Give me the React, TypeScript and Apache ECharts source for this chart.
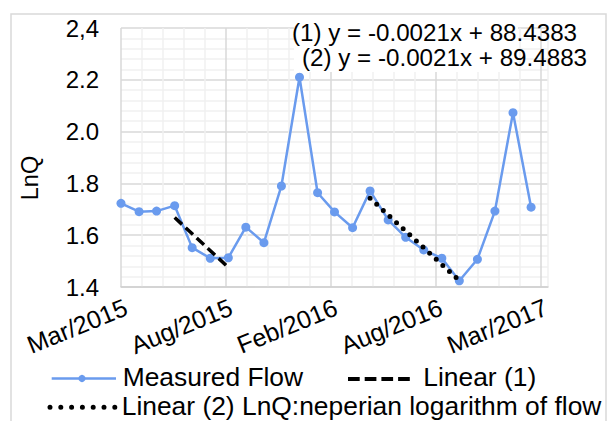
import React, { useEffect, useRef } from 'react';
import * as echarts from 'echarts';

// ---- Data ----
const months = [
  '2015-03', '2015-04', '2015-05', '2015-06', '2015-07', '2015-08',
  '2015-09', '2015-10', '2015-11', '2015-12', '2016-01', '2016-02',
  '2016-03', '2016-04', '2016-05', '2016-06', '2016-07', '2016-08',
  '2016-09', '2016-10', '2016-11', '2016-12', '2017-01', '2017-02',
];
const lnQ = [
  1.723, 1.691, 1.693, 1.714, 1.552, 1.511,
  1.513, 1.631, 1.571, 1.790, 2.210, 1.764,
  1.690, 1.629, 1.771, 1.659, 1.592, 1.543,
  1.511, 1.424, 1.507, 1.693, 2.073, 1.708,
];
const xTickLabels = ['Mar/2015', 'Aug/2015', 'Feb/2016', 'Aug/2016', 'Mar/2017'];
const yTickLabels = ['1.4', '1.6', '1.8', '2.0', '2.2', '2,4'];
const trend1Range = [3, 6];
const trend2Range = [14, 19];
const equations = ['(1) y = -0.0021x + 88.4383', '(2) y = -0.0021x + 89.4883'];
const legendNames = ['Measured Flow', 'Linear (1)', 'Linear (2) LnQ:neperian logarithm of flow'];

// ---- Helpers ----
const START = Date.UTC(2015, 2, 1);
const DAY = 86400000;
const dayOf = (m: string) => {
  const [y, mo] = m.split('-').map(Number);
  return (Date.UTC(y, mo - 1, 1) - START) / DAY;
};
const X_MAX = 732;
const X_MAJOR = 180;
const X_MINOR = 36;

function linearTrend(range: number[]) {
  const xs: number[] = [];
  const ys: number[] = [];
  for (let i = range[0]; i <= range[1]; i++) {
    xs.push(dayOf(months[i]));
    ys.push(lnQ[i]);
  }
  const n = xs.length;
  const mx = xs.reduce((a, b) => a + b, 0) / n;
  const my = ys.reduce((a, b) => a + b, 0) / n;
  let sxy = 0;
  let sxx = 0;
  for (let i = 0; i < n; i++) {
    sxy += (xs[i] - mx) * (ys[i] - my);
    sxx += (xs[i] - mx) * (xs[i] - mx);
  }
  const slope = sxy / sxx;
  return [
    [xs[0], my + slope * (xs[0] - mx)],
    [xs[n - 1], my + slope * (xs[n - 1] - mx)],
  ];
}

const FONT = 'Liberation Sans, Arial, Helvetica, sans-serif';
const BLUE = '#6a9bee';

export default function App() {
  const ref = useRef<HTMLDivElement>(null);

  useEffect(() => {
    const chart = echarts.init(ref.current!, null, { renderer: 'svg' });
    const flowData = months.map((m, i) => [dayOf(m), lnQ[i]]);

    const option: any = {
      animation: false,
      backgroundColor: '#fff',
      textStyle: { fontFamily: FONT },
      grid: [
        { left: 121, top: 28, right: 59, bottom: 134, containLabel: false },
        // label grid, shifted slightly right so rotated labels end past their ticks
        { left: 126, top: 28, right: 54, bottom: 134, containLabel: false },
      ],
      xAxis: [
        {
          type: 'value',
          gridIndex: 0,
          min: 0,
          max: X_MAX,
          interval: X_MINOR,
          axisLine: { show: true, lineStyle: { color: '#d0d0d0', width: 1.5 } },
          axisTick: { show: false },
          splitLine: {
            show: true,
            lineStyle: { color: ['#d9d9d9', '#f0f0f0', '#f0f0f0', '#f0f0f0', '#f0f0f0'], width: 1.5 },
          },
          axisLabel: { show: false },
        },
        {
          type: 'value',
          gridIndex: 1,
          min: 0,
          max: X_MAX,
          interval: X_MAJOR,
          axisLine: { show: false },
          axisTick: { show: false },
          splitLine: { show: false },
          axisLabel: {
            rotate: 22,
            margin: 19,
            fontSize: 25,
            color: '#000',
            fontFamily: FONT,
            formatter: (v: number) => {
              const k = v / X_MAJOR;
              const r = Math.round(k);
              return Math.abs(k - r) < 1e-6 && r < xTickLabels.length ? xTickLabels[r] : '';
            },
          },
        },
      ],
      yAxis: [
        {
          type: 'value',
          gridIndex: 0,
          min: 1.4,
          max: 2.4,
          interval: 0.2,
          axisLine: { show: false },
          axisTick: { show: false },
          splitLine: { show: true, lineStyle: { color: '#d9d9d9', width: 1.5 } },
          minorTick: { show: false, splitNumber: 5 },
          minorSplitLine: { show: true, lineStyle: { color: '#f0f0f0', width: 1.5 } },
          axisLabel: {
            margin: 22,
            fontSize: 24,
            color: '#000',
            fontFamily: FONT,
            formatter: (v: number) => yTickLabels[Math.round((v - 1.4) / 0.2)] ?? '',
          },
        },
        { type: 'value', gridIndex: 1, min: 0, max: 1, show: false },
      ],
      series: [
        {
          name: legendNames[0],
          type: 'line',
          data: flowData,
          symbol: 'circle',
          symbolSize: 9,
          itemStyle: { color: BLUE },
          lineStyle: { color: BLUE, width: 2.5 },
          z: 3,
        },
        {
          name: legendNames[1],
          type: 'line',
          data: linearTrend(trend1Range),
          symbol: 'none',
          lineStyle: { color: '#000', width: 3.5, type: [10, 5] },
          z: 4,
        },
        {
          name: legendNames[2],
          type: 'line',
          data: linearTrend(trend2Range),
          symbol: 'none',
          lineStyle: { color: '#000', width: 5, type: [0, 9], cap: 'round' },
          z: 4,
        },
      ],
      graphic: [
        {
          type: 'rect',
          z: -1,
          shape: { x: 11, y: 14, width: 595, height: 430 },
          style: { fill: 'none', stroke: '#d9d9d9', lineWidth: 1.5 },
          silent: true,
        },
        {
          type: 'rect',
          z: 1,
          shape: { x: 294, y: 20, width: 224, height: 52 },
          style: { fill: '#fff' },
          silent: true,
        },
        {
          type: 'text',
          z: 2,
          x: 30,
          y: 178,
          rotation: Math.PI / 2,
          style: {
            text: 'LnQ', fontSize: 23.5, fontFamily: FONT, fill: '#000',
            align: 'center', verticalAlign: 'middle',
          },
        },
        {
          type: 'text',
          z: 2,
          x: 292,
          y: 32.3,
          style: {
            text: equations[0], fontSize: 24.2, fontFamily: FONT, fill: '#000',
            align: 'left', verticalAlign: 'middle',
          },
        },
        {
          type: 'text',
          z: 2,
          x: 302,
          y: 57.2,
          style: {
            text: equations[1], fontSize: 24.2, fontFamily: FONT, fill: '#000',
            align: 'left', verticalAlign: 'middle',
          },
        },
        // legend row 1
        {
          type: 'line',
          shape: { x1: 51.7, y1: 378.5, x2: 116, y2: 378.5 },
          style: { stroke: BLUE, lineWidth: 2.5 },
        },
        {
          type: 'circle',
          shape: { cx: 82, cy: 378.5, r: 3.6 },
          style: { fill: BLUE },
        },
        {
          type: 'text',
          x: 122.7,
          y: 377,
          style: {
            text: legendNames[0], fontSize: 26.4, fontFamily: FONT, fill: '#000',
            align: 'left', verticalAlign: 'middle',
          },
        },
        {
          type: 'line',
          shape: { x1: 348, y1: 379, x2: 412, y2: 379 },
          style: { stroke: '#000', lineWidth: 4, lineDash: [11.7, 5] },
        },
        {
          type: 'text',
          x: 423.3,
          y: 377,
          style: {
            text: legendNames[1], fontSize: 26.4, fontFamily: FONT, fill: '#000',
            align: 'left', verticalAlign: 'middle',
          },
        },
        // legend row 2
        {
          type: 'line',
          shape: { x1: 50, y1: 407.3, x2: 116, y2: 407.3 },
          style: { stroke: '#000', lineWidth: 5, lineDash: [0, 10.8], lineCap: 'round' },
        },
        {
          type: 'text',
          x: 121.7,
          y: 406,
          style: {
            text: legendNames[2], fontSize: 26.4, fontFamily: FONT, fill: '#000',
            align: 'left', verticalAlign: 'middle',
          },
        },
      ],
    };

    chart.setOption(option);
    return () => chart.dispose();
  }, []);

  return (
    <div
      ref={ref}
      style={{ position: 'fixed', left: 0, top: 0, width: 607, height: 421, background: '#fff' }}
    />
  );
}
